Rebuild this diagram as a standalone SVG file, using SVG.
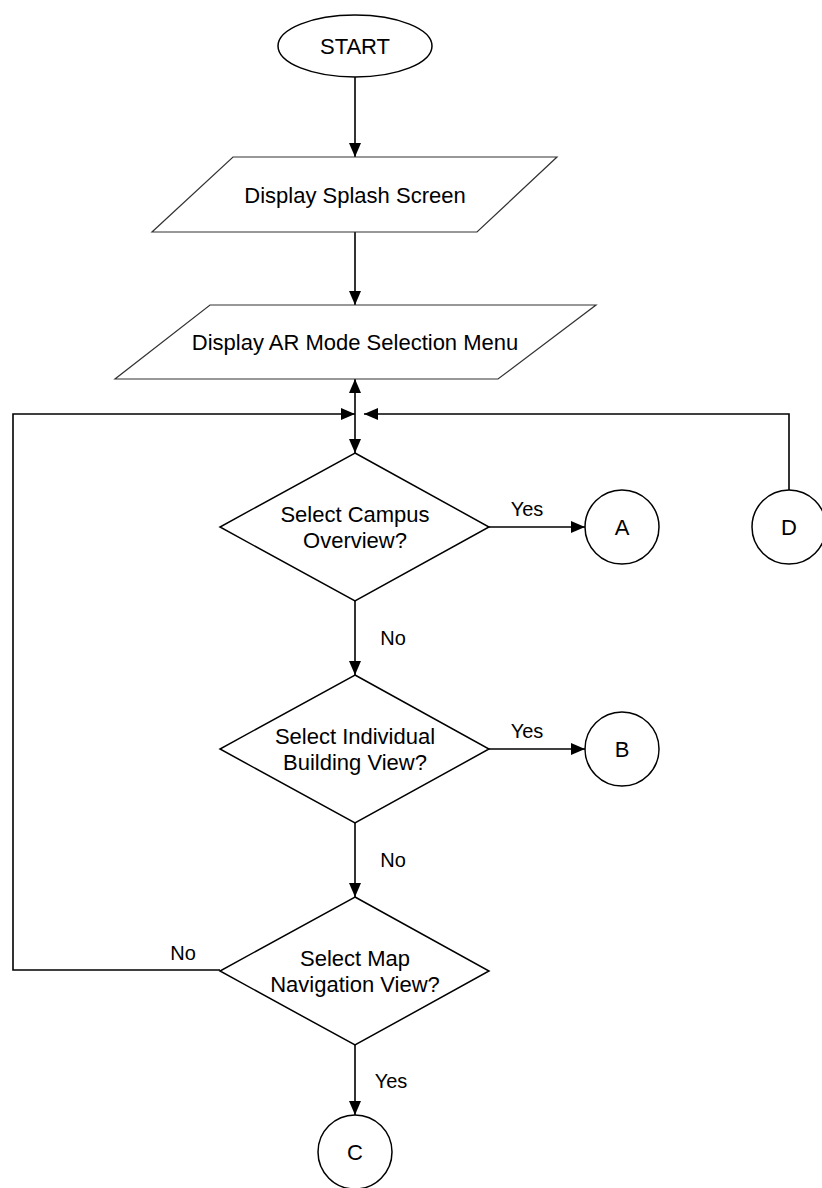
<svg xmlns="http://www.w3.org/2000/svg" width="822" height="1188" viewBox="0 0 822 1188">
  <defs>
    <marker id="arrow" viewBox="0 0 14 12" refX="14" refY="6" markerWidth="14" markerHeight="12" markerUnits="userSpaceOnUse" orient="auto">
      <path d="M0,0 L14,6 L0,12 Z" fill="#000"/>
    </marker>
    <style>
      .shape { fill: #fff; stroke: #000; stroke-width: 1.5; }
      .io { fill: #fff; stroke: #333; stroke-width: 1.2; }
      .edge { fill: none; stroke: #000; stroke-width: 1.6; }
      .txt { font-family: "Liberation Sans", Arial, sans-serif; font-size: 22px; fill: #000; text-anchor: middle; }
      .lbl { font-family: "Liberation Sans", Arial, sans-serif; font-size: 20px; fill: #000; text-anchor: middle; }
    </style>
  </defs>
  <rect width="822" height="1188" fill="#fff"/>

  <!-- connectors -->
  <g id="connectors">
    <path class="edge" d="M355,77 L355,157" marker-end="url(#arrow)"/>
    <path class="edge" d="M355,232 L355,305" marker-end="url(#arrow)"/>
    <path class="edge" d="M355,414 L355,379" marker-end="url(#arrow)"/>
    <path class="edge" d="M355,414 L355,453" marker-end="url(#arrow)"/>
    <path class="edge" d="M220,970 L13,970 L13,414 L355,414" marker-end="url(#arrow)"/>
    <path class="edge" d="M789,490 L789,414 L364,414" marker-end="url(#arrow)"/>
    <path class="edge" d="M489,527 L585,527" marker-end="url(#arrow)"/>
    <path class="edge" d="M355,601 L355,675" marker-end="url(#arrow)"/>
    <path class="edge" d="M489,749 L585,749" marker-end="url(#arrow)"/>
    <path class="edge" d="M355,823 L355,897" marker-end="url(#arrow)"/>
    <path class="edge" d="M355,1045 L355,1115" marker-end="url(#arrow)"/>
    <text class="lbl" x="527" y="516">Yes</text>
    <text class="lbl" x="393" y="645">No</text>
    <text class="lbl" x="527" y="738">Yes</text>
    <text class="lbl" x="393" y="867">No</text>
    <text class="lbl" x="183" y="960">No</text>
    <text class="lbl" x="391" y="1088">Yes</text>
  </g>

  <g id="start">
    <ellipse class="shape" cx="355" cy="46" rx="77" ry="31"/>
    <text class="txt" x="355" y="54">START</text>
  </g>

  <g id="splash">
    <polygon class="io" points="233,157 557,157 477,232 152,232"/>
    <text class="txt" x="355" y="203">Display Splash Screen</text>
  </g>

  <g id="menu">
    <polygon class="io" points="210,305 596,305 498,379 115,379"/>
    <text class="txt" x="355" y="350">Display AR Mode Selection Menu</text>
  </g>

  <g id="campus">
    <polygon class="shape" points="355,453 489,527 355,601 220,527"/>
    <text class="txt" x="355" y="522">Select Campus</text>
    <text class="txt" x="355" y="548">Overview?</text>
  </g>

  <g id="building">
    <polygon class="shape" points="355,675 489,749 355,823 220,749"/>
    <text class="txt" x="355" y="744">Select Individual</text>
    <text class="txt" x="355" y="770">Building View?</text>
  </g>

  <g id="map">
    <polygon class="shape" points="355,897 489,971 355,1045 220,971"/>
    <text class="txt" x="355" y="966">Select Map</text>
    <text class="txt" x="355" y="992">Navigation View?</text>
  </g>

  <g id="conn-a">
    <circle class="shape" cx="622" cy="527" r="37"/>
    <text class="txt" x="622" y="535">A</text>
  </g>
  <g id="conn-b">
    <circle class="shape" cx="622" cy="749" r="37"/>
    <text class="txt" x="622" y="757">B</text>
  </g>
  <g id="conn-c">
    <circle class="shape" cx="355" cy="1152" r="37"/>
    <text class="txt" x="355" y="1160">C</text>
  </g>
  <g id="conn-d">
    <circle class="shape" cx="789" cy="527" r="37"/>
    <text class="txt" x="789" y="535">D</text>
  </g>
</svg>
